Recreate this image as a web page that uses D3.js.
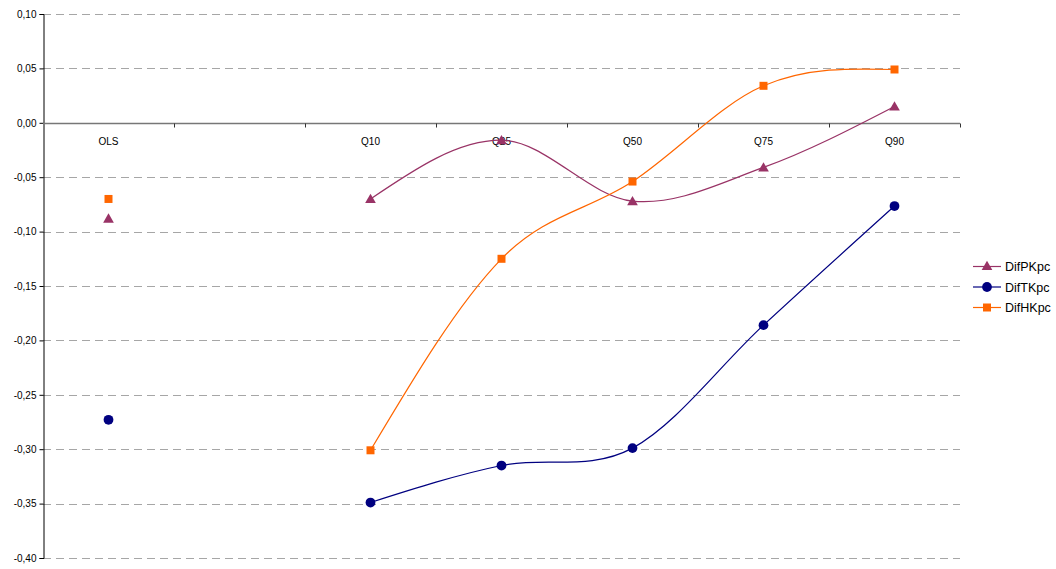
<!DOCTYPE html>
<html>
<head>
<meta charset="utf-8">
<script src="https://cdn.jsdelivr.net/npm/d3@7"></script>
<style>
  html, body { margin: 0; padding: 0; background: #fff; }
  svg { display: block; font-family: "Liberation Sans", Arial, sans-serif; }
</style>
</head>
<body>
<svg id="chart" width="1056" height="569"></svg>
<script>
// Categories (the empty one separates OLS from the quantile estimates)
const categories = ["OLS", " ", "Q10", "Q25", "Q50", "Q75", "Q90"];
const quantiles = ["Q10", "Q25", "Q50", "Q75", "Q90"];

// Estimates per category; null where there is no value
const difPKpc = [-0.088, null, -0.070, -0.016, -0.072, -0.041, 0.015];
const difTKpc = [-0.273, null, -0.349, -0.315, -0.299, -0.186, -0.0765];
const difHKpc = [-0.070, null, -0.301, -0.125, -0.054, 0.034, 0.049];

const yTicks = [0.10, 0.05, 0.00, -0.05, -0.10, -0.15, -0.20, -0.25, -0.30, -0.35, -0.40];

const series = [
  { name: "DifPKpc", values: difPKpc, color: "#993366", marker: "triangle" },
  { name: "DifTKpc", values: difTKpc, color: "#000080", marker: "circle" },
  { name: "DifHKpc", values: difHKpc, color: "#FF6600", marker: "square" }
];

const svg = d3.select("#chart");
const plot = { left: 43, right: 960, top: 14, bottom: 558 };

const x = d3.scaleBand().domain(categories).range([plot.left, plot.right]).padding(0);
const y = d3.scaleLinear().domain([-0.40, 0.10]).range([plot.bottom, plot.top]);
const fmt = v => d3.format(".2f")(v).replace(".", ",").replace("−", "-");

// Spreadsheet-style smoothing: cubic Bezier segments whose interior tangents
// follow the neighbouring points; at the two ends the free control point sits
// halfway towards the inner control point (natural end condition).
function curveSmooth(context) {
  let pts;
  return {
    areaStart() {}, areaEnd() {},
    lineStart() { pts = []; },
    point(px, py) { pts.push([+px, +py]); },
    lineEnd() {
      const n = pts.length;
      if (!n) return;
      context.moveTo(pts[0][0], pts[0][1]);
      if (n === 2) { context.lineTo(pts[1][0], pts[1][1]); return; }
      for (let i = 0; i < n - 1; i++) {
        const p1 = pts[i], p2 = pts[i + 1];
        let c1, c2;
        if (i > 0) {
          const p0 = pts[i - 1];
          c1 = [p1[0] + (p2[0] - p0[0]) / 6, p1[1] + (p2[1] - p0[1]) / 6];
        }
        if (i < n - 2) {
          const p3 = pts[i + 2];
          c2 = [p2[0] - (p3[0] - p1[0]) / 6, p2[1] - (p3[1] - p1[1]) / 6];
        }
        if (!c1) c1 = [p1[0] + (c2[0] - p1[0]) / 2, p1[1] + (c2[1] - p1[1]) / 2];
        if (!c2) c2 = [p2[0] + (c1[0] - p2[0]) / 2, p2[1] + (c1[1] - p2[1]) / 2];
        context.bezierCurveTo(c1[0], c1[1], c2[0], c2[1], p2[0], p2[1]);
      }
    }
  };
}

// Horizontal dashed gridlines
svg.append("g").selectAll("line").data(yTicks.filter(v => v !== 0)).join("line")
  .attr("x1", plot.left).attr("x2", plot.right)
  .attr("y1", d => Math.round(y(d)) + 0.5).attr("y2", d => Math.round(y(d)) + 0.5)
  .attr("stroke", "#a6a6a6").attr("stroke-width", 1)
  .attr("stroke-dasharray", "8,5");

// Value axis
const yAxis = d3.axisLeft(y).tickValues(yTicks).tickSize(4).tickPadding(3).tickFormat(fmt);
const gy = svg.append("g").attr("transform", `translate(${plot.left + 0.5},0)`).call(yAxis);
gy.select(".domain").attr("stroke", "#000");
gy.selectAll(".tick line").attr("stroke", "#000");
gy.selectAll("text").attr("font-size", 10).attr("fill", "#000")
  .attr("font-family", "'Liberation Sans', Arial, sans-serif");

// Category axis crossing at zero
const y0 = Math.round(y(0)) + 0.5;
const gx = svg.append("g");
gx.append("line").attr("x1", plot.left).attr("x2", plot.right)
  .attr("y1", y0).attr("y2", y0).attr("stroke", "#777").attr("stroke-width", 1.6);
const bounds = categories.map(c => x(c)).concat([plot.right]).slice(1);
gx.selectAll("line.tk").data(bounds).join("line").attr("class", "tk")
  .attr("x1", d => Math.round(d) + 0.5).attr("x2", d => Math.round(d) + 0.5)
  .attr("y1", y0).attr("y2", y0 + 4).attr("stroke", "#333");
gx.selectAll("text").data(categories).join("text")
  .attr("x", d => x(d) + x.bandwidth() / 2).attr("y", y0 + 21)
  .attr("text-anchor", "middle").attr("font-size", 10).attr("fill", "#000")
  .text(d => d.trim());

// Smoothed lines through the quantile estimates
const line = d3.line()
  .x(d => x(d.cat) + x.bandwidth() / 2)
  .y(d => y(d.v))
  .curve(curveSmooth);

function markerPath(type, size) {
  if (type === "triangle") return d3.symbol(d3.symbolTriangle, size * 0.9)();
  if (type === "circle") return d3.symbol(d3.symbolCircle, size)();
  return d3.symbol(d3.symbolSquare, size)();
}
const markerSize = m => m === "triangle" ? 55 : m === "circle" ? 75 : 64;

series.forEach(s => {
  const pts = categories.map((c, i) => ({ cat: c, v: s.values[i] }));
  const linePts = pts.filter(p => quantiles.includes(p.cat));
  svg.append("path").datum(linePts)
    .attr("d", line).attr("fill", "none")
    .attr("stroke", s.color).attr("stroke-width", 1.2);
  svg.append("g").selectAll("path").data(pts.filter(p => p.v !== null)).join("path")
    .attr("d", markerPath(s.marker, markerSize(s.marker)))
    .attr("transform", d => `translate(${x(d.cat) + x.bandwidth() / 2},${y(d.v) + (s.marker === "triangle" ? 1 : 0)})`)
    .attr("fill", s.color);
});

// Legend
const legend = svg.append("g").attr("transform", "translate(973,266)");
series.forEach((s, i) => {
  const g = legend.append("g").attr("transform", `translate(0,${i * 20.5})`);
  g.append("line").attr("x1", 0).attr("x2", 28).attr("y1", 0.5).attr("y2", 0.5)
    .attr("stroke", s.color).attr("stroke-width", 1.2);
  g.append("path").attr("d", markerPath(s.marker, markerSize(s.marker)))
    .attr("transform", `translate(14,${s.marker === "triangle" ? 1 : 0.5})`).attr("fill", s.color);
  g.append("text").attr("x", 32).attr("y", 5).attr("font-size", 12.5).attr("fill", "#000")
    .text(s.name);
});
</script>
</body>
</html>
